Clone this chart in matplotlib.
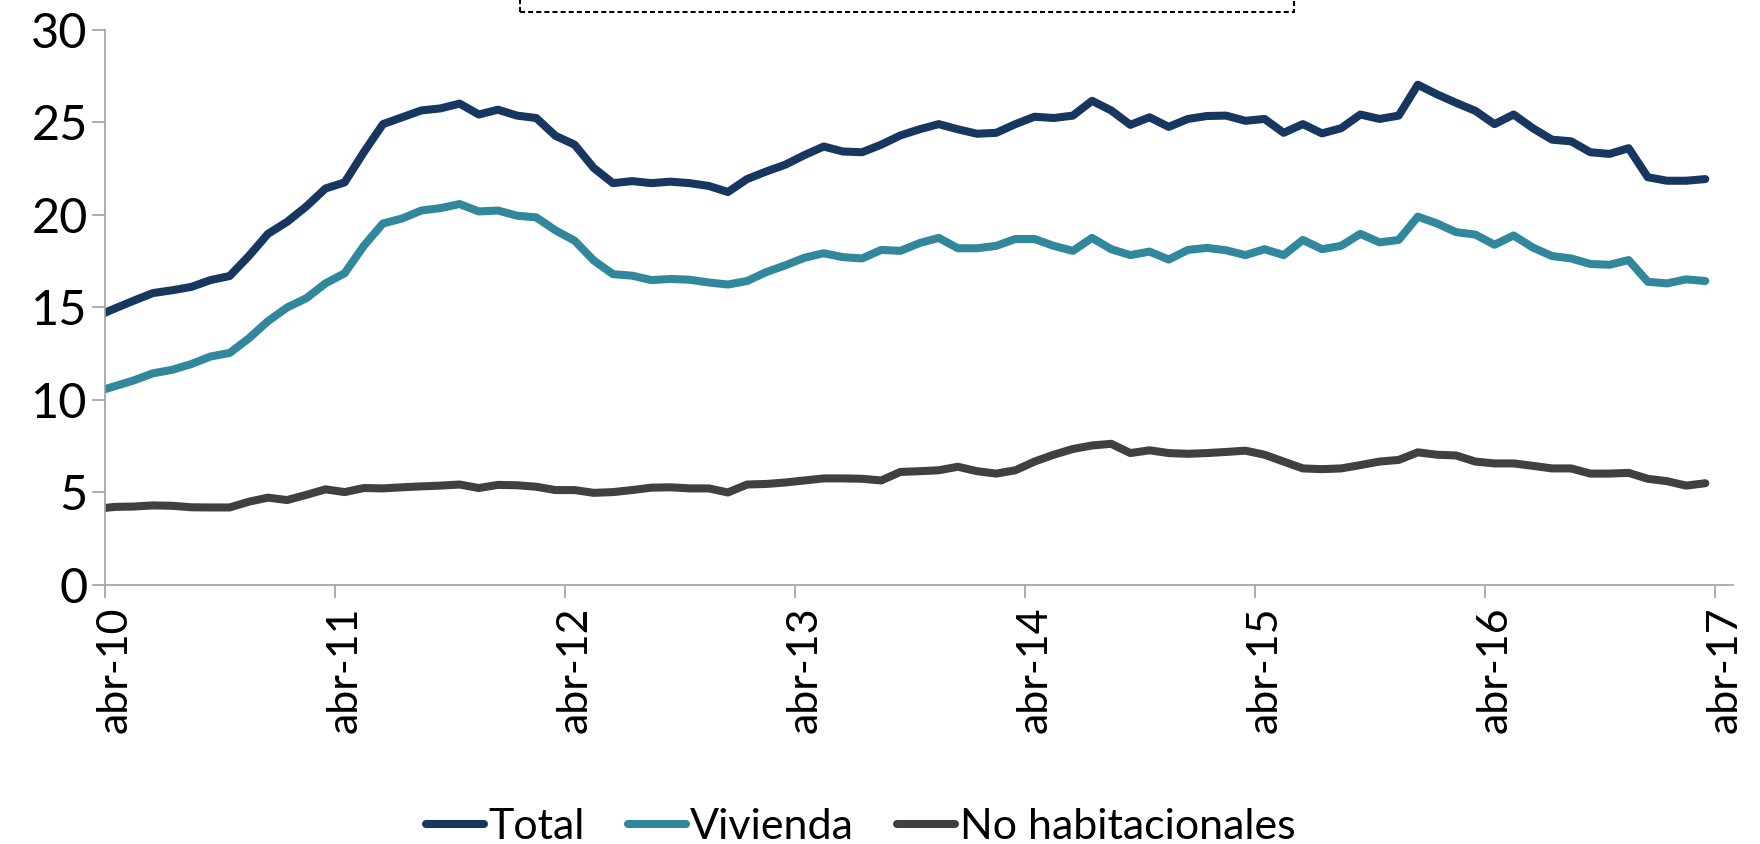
"""
Crecimiento anual del crédito: Total, Vivienda y No habitacionales
Redraw of the line chart, abr-10 to abr-17
"""

import numpy as np
import pandas as pd
import matplotlib
matplotlib.use('Agg')
import matplotlib.pyplot as plt
import matplotlib.patches as patches
import matplotlib.transforms as mtransforms

plt.rcParams['font.family'] = ['Lato', 'DejaVu Sans']

# monthly observations, mar-10 .. mar-17 (plotted at mid-month)
months = pd.period_range('2010-03', '2017-03', freq='M')

total = [
    14.50,
    14.94, 15.37, 15.78, 15.93, 16.11, 16.48, 16.70, 17.78, 18.98, 19.63, 20.46, 21.43,
    21.76, 23.39, 24.91, 25.28, 25.65, 25.76, 26.02, 25.43, 25.69, 25.37, 25.24, 24.28,
    23.80, 22.54, 21.72, 21.83, 21.72, 21.80, 21.72, 21.57, 21.24, 21.94, 22.35, 22.72,
    23.24, 23.70, 23.43, 23.39, 23.80, 24.30, 24.63, 24.91, 24.63, 24.39, 24.44, 24.91,
    25.31, 25.24, 25.37, 26.17, 25.65, 24.87, 25.28, 24.76, 25.19, 25.35, 25.37, 25.09,
    25.19, 24.44, 24.91, 24.41, 24.69, 25.43, 25.19, 25.37, 27.04, 26.52, 26.06, 25.63,
    24.91, 25.43, 24.69, 24.07, 23.98, 23.39, 23.30, 23.61, 22.04, 21.85, 21.85, 21.94,
]

vivienda = [
    10.43,
    10.74, 11.06, 11.44, 11.63, 11.94, 12.35, 12.54, 13.33, 14.26, 15.00, 15.50, 16.30,
    16.85, 18.33, 19.54, 19.81, 20.24, 20.37, 20.59, 20.19, 20.24, 19.96, 19.87, 19.17,
    18.61, 17.54, 16.80, 16.72, 16.48, 16.54, 16.50, 16.35, 16.24, 16.43, 16.91, 17.28,
    17.69, 17.93, 17.72, 17.65, 18.11, 18.06, 18.48, 18.76, 18.20, 18.20, 18.33, 18.70,
    18.70, 18.33, 18.06, 18.76, 18.15, 17.83, 18.02, 17.59, 18.11, 18.22, 18.09, 17.83,
    18.15, 17.83, 18.65, 18.15, 18.33, 18.98, 18.52, 18.65, 19.91, 19.54, 19.07, 18.94,
    18.39, 18.89, 18.24, 17.78, 17.65, 17.35, 17.31, 17.56, 16.39, 16.30, 16.52, 16.43,
]

no_habitacionales = [
    4.11,
    4.22, 4.24, 4.30, 4.28, 4.20, 4.19, 4.19, 4.50, 4.72, 4.59, 4.87, 5.17,
    5.02, 5.24, 5.22, 5.28, 5.33, 5.37, 5.43, 5.24, 5.41, 5.39, 5.31, 5.13,
    5.13, 4.98, 5.02, 5.13, 5.26, 5.28, 5.22, 5.22, 5.00, 5.43, 5.46, 5.54,
    5.65, 5.76, 5.76, 5.74, 5.65, 6.11, 6.15, 6.20, 6.39, 6.15, 6.02, 6.20,
    6.67, 7.04, 7.35, 7.54, 7.63, 7.13, 7.28, 7.13, 7.09, 7.13, 7.19, 7.26,
    7.04, 6.67, 6.30, 6.26, 6.30, 6.48, 6.67, 6.76, 7.17, 7.04, 7.00, 6.67,
    6.57, 6.57, 6.44, 6.30, 6.30, 6.02, 6.02, 6.06, 5.74, 5.61, 5.37, 5.50,
]

tick_years = list(range(10, 18))
tick_labels = [f'abr-{y}' for y in tick_years]

# months counted from abr-10, mid-month
x = np.array([(p.year - 2010) * 12 + p.month - 4 + 0.5 for p in months])

fig = plt.figure(figsize=(17.6, 8.44), dpi=100)
ax = fig.add_axes([0.0597, 0.3069, 0.925, 0.6576])

series = [
    (total, 'Total', '#173660'),
    (vivienda, 'Vivienda', '#31879c'),
    (no_habitacionales, 'No habitacionales', '#404040'),
]
for vals, label, color in series:
    ax.plot(x, vals, color=color, lw=5.8, label=label,
            solid_capstyle='round', solid_joinstyle='round')

ax.set_xlim(0, 84.95)
ax.set_ylim(0, 30)
ax.set_yticks(range(0, 31, 5))
ax.set_xticks([12 * i for i in range(len(tick_labels))])
ax.set_xticklabels(tick_labels, rotation=90, va='top', ha='center')

for side in ['top', 'right']:
    ax.spines[side].set_visible(False)
for side in ['left', 'bottom']:
    ax.spines[side].set_color('#a0a0a0')
    ax.spines[side].set_linewidth(1.2)

ax.tick_params(axis='both', direction='out', length=9.5, width=1.2,
               color='#a0a0a0', labelcolor='black')
ax.tick_params(axis='y', pad=3, labelsize=35)
ax.tick_params(axis='x', pad=6, labelsize=31)

# Excel puts rotated labels slightly right of the tick
offset = mtransforms.ScaledTranslation(10 / 100, 0, fig.dpi_scale_trans)
for lab in ax.get_xticklabels():
    lab.set_transform(lab.get_transform() + offset)

leg = fig.legend(loc='center', bbox_to_anchor=(0.489, 0.02), ncol=3,
                 frameon=False, fontsize=31, handlelength=1.35,
                 handletextpad=0.1, columnspacing=1.0)
for line in leg.get_lines():
    line.set_linewidth(5.8)
    line.set_solid_capstyle('round')

# dashed text box cut at the top of the picture
box = patches.Rectangle((0.2955, 0.986), 0.4398, 0.1, transform=fig.transFigure,
                        fill=False, ec='black', lw=1.5, ls=(0, (2.4, 1.5)),
                        clip_on=False)
fig.patches.append(box)

fig.savefig('out.png', dpi=100)
